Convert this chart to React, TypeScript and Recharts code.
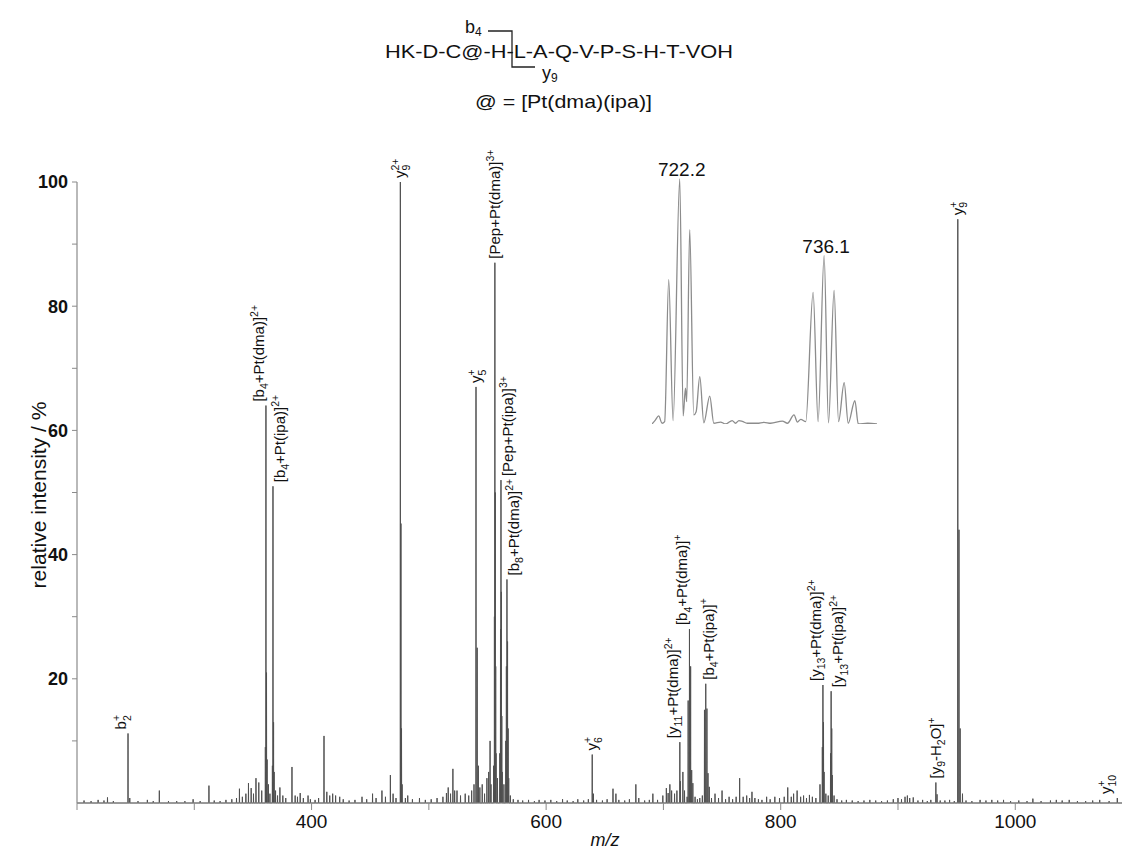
import React from 'react';
import { ComposedChart, Line, Scatter, XAxis, YAxis } from 'recharts';

// ---------- DATA ----------
// main stick spectrum: [m/z, relative intensity %]
const peaks: [number, number][] = [
  [206, 0.4], [212, 0.3], [218, 0.5], [223, 0.4], [226, 0.9], [231, 0.3], [243.5, 11.2], [245, 0.8],
  [252, 0.3], [260, 0.5], [265, 0.3], [270.2, 2.0], [278, 0.3], [285, 0.3], [292, 0.3], [299, 0.6],
  [305, 0.3], [312.5, 2.8], [317, 0.4], [322, 0.3], [327, 0.5], [332, 0.6], [336, 0.8],
  [338.5, 2.3], [341, 1], [344, 1.5], [346.2, 3.2], [348.5, 2.4], [350.5, 1.5], [352.6, 4], [355, 3.3],
  [357.5, 2], [360.6, 9], [361.1, 64], [361.6, 21], [362.1, 7], [363.2, 3], [364.5, 1.5], [366.6, 6],
  [367.1, 51], [367.6, 13], [368.1, 5], [369.3, 2], [371, 1.2], [373, 2.5], [375.5, 1.2], [378, 0.8],
  [383.3, 5.8], [386, 1.2], [388, 1], [390.3, 1.6], [393, 0.8], [397, 1.2], [399, 0.6],
  [403, 0.5], [406, 0.8], [410.6, 10.8], [413, 1.8], [415.5, 1.2], [418, 1.5], [420.5, 1.2], [424, 1.0],
  [427, 0.6], [432, 0.4], [437, 0.5], [443, 1.0], [447, 0.6], [452, 1.5], [455, 0.8], [460, 2.0],
  [463, 1.0], [467.2, 4.5], [469.5, 1.5], [472, 0.8],
  [475.7, 100], [476.2, 45], [476.7, 12], [477.2, 3], [480, 0.8], [482, 1.2], [486, 0.6], [492, 0.8],
  [497, 0.5], [502, 0.6], [507, 0.8], [512, 1.0], [515, 1.6], [516.5, 2.5], [518.5, 1.5], [520.5, 5.5],
  [522, 2], [524, 2.0], [527, 1.2], [531, 1.5], [534, 1.2], [536.5, 2], [538.5, 3],
  [540.2, 67], [541.2, 25], [542.2, 6], [543.5, 2.5], [545.5, 3], [547.5, 1.5], [549.5, 4], [551, 5],
  [552.2, 10], [553, 3], [555.2, 6], [555.9, 30], [556.3, 87], [556.6, 50], [557.0, 22], [557.3, 8],
  [558.5, 4], [560.5, 8], [561.1, 28], [561.5, 52], [561.8, 34], [562.2, 14], [562.6, 5], [564, 3],
  [565.6, 10], [566.1, 22], [566.6, 36], [567.1, 26], [567.6, 12], [568.1, 4], [569.5, 1.2], [572, 0.6],
  [576, 0.5], [580, 0.4], [585, 0.5], [590, 0.3], [594, 0.5], [599, 0.4], [604, 0.5], [609, 0.3],
  [614, 0.6], [618, 0.4], [623, 0.3], [627, 0.6], [632, 0.4], [636, 0.6],
  [639.3, 7.8], [640.3, 1.5], [643, 0.5], [648, 0.4], [652, 0.6], [657, 2.3], [659.5, 1.5], [662, 0.5],
  [667, 0.4], [671, 0.6], [676.5, 3.0], [679, 0.8], [684, 0.4], [688, 0.5], [691, 1.5], [695, 0.5],
  [699.5, 1.2], [702.5, 2.4], [704, 1.6], [705.5, 3.0], [707, 2.0], [709.5, 1.5], [711.5, 2.0],
  [714, 9.8], [714.5, 3.5], [716.6, 5], [718, 2], [720.2, 1], [721.1, 16.5], [722.2, 28], [722.8, 4.2],
  [723.2, 22], [724.1, 5.3], [725.1, 3.2], [727, 1], [729, 0.6], [731, 0.8], [733.2, 1.2],
  [735.0, 15], [736.1, 19.2], [737.1, 15.2], [738.0, 4.8], [739.1, 2.6], [741, 0.8], [744, 1.5],
  [747, 0.8], [750, 2.0], [753, 0.6], [756, 1.0], [759, 0.6], [762, 1.0], [765, 4.0], [768, 1.0],
  [771, 1.2], [773.5, 0.8], [775.5, 1.8], [778, 0.8], [781, 0.6], [784, 0.5], [788, 1.0], [791, 0.6],
  [795, 1.0], [799, 0.8], [803, 1.0], [806, 2.5], [809, 1.0], [811, 1.5], [814, 2.0], [817, 1.0],
  [819.5, 1.2], [822, 0.8], [824.5, 1.3], [827, 1.0], [830, 0.8], [833.5, 3.0],
  [835.5, 9], [836.0, 19], [836.5, 13], [837.0, 5], [838.5, 1.5], [840.5, 1.2],
  [842.5, 8], [843.0, 18], [843.5, 12], [844.0, 4.5], [845.5, 1.2], [848, 0.6], [852, 0.4], [856, 0.5],
  [861, 0.4], [866, 0.3], [871, 0.4], [876, 0.5], [881, 0.4], [886, 0.3], [891, 0.4], [896, 0.6],
  [900, 0.8], [903, 0.6], [906, 1.0], [908, 1.2], [910, 0.8], [913, 0.9], [917, 0.4], [921, 0.5],
  [925, 0.3], [928, 0.5], [932.3, 3.3], [933.3, 1.4], [936, 0.4], [940, 0.4], [944, 0.5], [948, 0.3],
  [951.0, 94], [952.0, 44], [953.0, 12], [955, 1.5], [958, 0.4], [963, 0.3], [970, 0.5], [975, 0.4],
  [980, 0.5], [985, 0.4], [990, 0.5], [996, 0.3], [1003, 0.4], [1010, 0.3], [1015, 0.7], [1022, 0.3],
  [1030, 0.4], [1035, 0.5], [1040, 0.4], [1046, 0.5], [1053, 0.3], [1060, 0.3], [1066, 0.4],
  [1072, 0.5], [1080, 0.3], [1087, 0.8],
];

// annotated fragment ions: m/z, intensity, label markup (_{} subscript, ^{} superscript)
const labelMz = [243.5, 361.1, 367.1, 475.7, 540.2, 556.3, 561.5, 566.6, 639.3, 714, 722.2, 736.1, 836.0, 843.0, 932.3, 951.0, 1087];
const labelInt = [11.2, 64, 51, 100, 67, 87, 52, 36, 7.8, 9.8, 28, 19.2, 19, 18, 3.3, 94, 0.8];
const labelText = [
  'b_{2}^{+}', '[b_{4}+Pt(dma)]^{2+}', '[b_{4}+Pt(ipa)]^{2+}', 'y_{9}^{2+}', 'y_{5}^{+}',
  '[Pep+Pt(dma)]^{3+}', '[Pep+Pt(ipa)]^{3+}', '[b_{8}+Pt(dma)]^{2+}', 'y_{6}^{+}',
  '[y_{11}+Pt(dma)]^{2+}', '[b_{4}+Pt(dma)]^{+}', '[b_{4}+Pt(ipa)]^{+}',
  '[y_{13}+Pt(dma)]^{2+}', '[y_{13}+Pt(ipa)]^{2+}', '[y_{9}-H_{2}O]^{+}', 'y_{9}^{+}', 'y_{10}^{+}',
];

// inset: profile of the 722.2 / 736.1 isotope clusters
const insetMz = [719.56, 719.88, 720.2, 720.53, 720.78, 721.17, 721.59, 722.23, 722.56, 722.78, 722.9, 723.19,
  723.58, 723.81, 724.16, 724.55, 725.12, 725.51, 726.16, 726.64, 727.28, 727.6, 727.93, 728.25, 728.73,
  729.7, 730.34, 730.98, 732.11, 732.6, 733.23, 733.56, 733.88, 734.36, 735.07, 735.55, 736.13, 736.55,
  737.09, 737.52, 738.06, 738.45, 739.09, 739.42, 740.32, 741.22];
const insetInt = [0, 1.6, 3.3, 0.3, 1, 58.9, 1.4, 100, 3.3, 14.6, 9.1, 79.3,
  3.7, 5, 19.3, 0.5, 11.4, 0.3, 0.8, 0, 1.4, 0.3, 1.4, 1.1, 0.3,
  0.3, 0.7, 0.3, 1.2, 0.3, 3.7, 0.8, 1.9, 1, 53.7, 1, 68.7, 0.5,
  54.5, 1, 16.9, 0.3, 9.5, 0, 0.3, 0];
const insetLabelMz = [722.23, 736.13];
const insetLabelInt = [100, 68.7];
const insetLabelText = ['722.2', '736.1'];

const xTicks = [200, 300, 400, 500, 600, 700, 800, 900, 1000];
const xTickLabels = [400, 600, 800, 1000];
const yTicks = [10, 20, 30, 40, 50, 60, 70, 80, 90, 100];
const yTickLabels = [20, 40, 60, 80, 100];

// ---------- STYLE: which side of its peak line each label sits ----------
const SIDE_OFFSET: Record<string, number> = { L: -2, C: 5, R: 12, r: 8, l: -6 };
const LABEL_SIDE: Record<string, string> = {
  'b_{2}^{+}': 'L',
  '[b_{4}+Pt(dma)]^{2+}': 'L',
  '[b_{4}+Pt(ipa)]^{2+}': 'R',
  'y_{9}^{2+}': 'C',
  'y_{5}^{+}': 'C',
  '[Pep+Pt(dma)]^{3+}': 'C',
  '[Pep+Pt(ipa)]^{3+}': 'R',
  '[b_{8}+Pt(dma)]^{2+}': 'R',
  'y_{6}^{+}': 'C',
  '[y_{11}+Pt(dma)]^{2+}': 'L',
  '[b_{4}+Pt(dma)]^{+}': 'L',
  '[b_{4}+Pt(ipa)]^{+}': 'r',
  '[y_{13}+Pt(dma)]^{2+}': 'L',
  '[y_{13}+Pt(ipa)]^{2+}': 'R',
  '[y_{9}-H_{2}O]^{+}': 'C',
  'y_{9}^{+}': 'C',
  'y_{10}^{+}': 'l',
};

// ---------- BUILD TABLES ----------
const HALF = 0.12;
const spectrum = (() => {
  const sorted = [...peaks].sort((a, b) => a[0] - b[0]);
  const pts: { mz: number; y: number }[] = [{ mz: 200, y: 0 }];
  sorted.forEach(([m, h]) => {
    pts.push({ mz: m - HALF, y: 0 }, { mz: m, y: h }, { mz: m + HALF, y: 0 });
  });
  pts.push({ mz: 1091, y: 0 });
  return pts;
})();
const labels = labelMz.map((m, i) => ({ mz: m, y: labelInt[i], text: labelText[i] }));
const insetData = insetMz.map((m, i) => ({ mz: m, y: insetInt[i] }));
const insetLabels = insetLabelMz.map((m, i) => ({ mz: m, y: insetLabelInt[i], text: insetLabelText[i] }));

const FONT = '"Liberation Sans", Arial, Helvetica, sans-serif';

function rich(markup: string, fs: number) {
  const parts = markup.split(/(_\{[^}]*\}|\^\{[^}]*\})/).filter(Boolean);
  let shift = 0;
  let lastSubW = 0;
  let prevSub = false;
  const small = fs * 0.7;
  return parts.map((p, i) => {
    let target = 0;
    let content = p;
    let size = fs;
    let dx = 0;
    let isSub = false;
    if (p.startsWith('_{')) {
      content = p.slice(2, -1);
      target = fs * 0.3;
      size = small;
      isSub = true;
      lastSubW = content.length * 0.556 * small;
    } else if (p.startsWith('^{')) {
      content = p.slice(2, -1);
      target = -fs * 0.42;
      size = small;
      if (prevSub) dx = -lastSubW;
    }
    const dy = target - shift;
    shift = target;
    prevSub = isSub;
    return (
      <tspan key={i} dy={dy} dx={dx || undefined} fontSize={size}>
        {content}
      </tspan>
    );
  });
}

const PeakLabel = (props: any) => {
  const { cx, cy, payload } = props;
  if (cx == null || cy == null) return null;
  const off = SIDE_OFFSET[LABEL_SIDE[payload.text] || 'L'];
  return (
    <text
      transform={`translate(${cx + off},${cy - 4}) rotate(-90)`}
      fontFamily={FONT}
      fontSize={15}
      fill="#111"
      textAnchor="start"
    >
      {rich(payload.text, 15)}
    </text>
  );
};

const InsetLabel = (props: any) => {
  const { cx, cy, payload } = props;
  if (cx == null || cy == null) return null;
  return (
    <text x={cx + 2} y={cy - 3} fontFamily={FONT} fontSize={19} fill="#111" textAnchor="middle">
      {payload.text}
    </text>
  );
};

export default function App() {
  return (
    <div
      style={{
        position: 'absolute',
        left: 0,
        top: 0,
        width: 1122,
        height: 852,
        background: '#ffffff',
        overflow: 'hidden',
        fontFamily: FONT,
      }}
    >
      <div style={{ position: 'absolute', left: 0, top: 0 }}>
        <ComposedChart width={1122} height={852} margin={{ top: 182, right: 0, bottom: 0, left: 0 }}>
          <XAxis
            type="number"
            dataKey="mz"
            domain={[200, 1091]}
            ticks={xTicks}
            tickFormatter={(v: number) => (xTickLabels.includes(v) ? String(v) : '')}
            height={49}
            tickSize={7}
            tickMargin={5}
            axisLine={{ stroke: '#8a8a8a', strokeWidth: 1.2 }}
            tickLine={{ stroke: '#8a8a8a' }}
            tick={{ fontSize: 19, fill: '#111', fontFamily: FONT }}
          />
          <YAxis
            type="number"
            dataKey="y"
            domain={[0, 100]}
            ticks={yTicks}
            tickFormatter={(v: number) => (yTickLabels.includes(v) ? String(v) : '')}
            width={77}
            tickSize={5}
            tickMargin={4}
            axisLine={{ stroke: '#8a8a8a', strokeWidth: 1.2 }}
            tickLine={{ stroke: '#8a8a8a' }}
            tick={{ fontSize: 18, fontWeight: 'bold', fill: '#111', fontFamily: FONT }}
          />
          <Line
            data={spectrum}
            dataKey="y"
            type="linear"
            stroke="#505050"
            strokeWidth={1}
            dot={false}
            activeDot={false}
            isAnimationActive={false}
          />
          <Scatter data={labels} dataKey="y" shape={PeakLabel} isAnimationActive={false} />
        </ComposedChart>
      </div>

      <div style={{ position: 'absolute', left: 652, top: 149 }}>
        <ComposedChart width={225} height={275} margin={{ top: 30, right: 0, bottom: 0, left: 0 }}>
          <XAxis type="number" dataKey="mz" domain={[719.56, 741.22]} hide />
          <YAxis type="number" dataKey="y" domain={[0, 100]} hide />
          <Line
            data={insetData}
            dataKey="y"
            type="monotone"
            stroke="#8c8c8c"
            strokeWidth={1.3}
            dot={false}
            activeDot={false}
            isAnimationActive={false}
          />
          <Scatter data={insetLabels} dataKey="y" shape={InsetLabel} isAnimationActive={false} />
        </ComposedChart>
      </div>

      <svg
        width={1122}
        height={852}
        style={{ position: 'absolute', left: 0, top: 0, pointerEvents: 'none' }}
        fontFamily={FONT}
      >
        {/* peptide sequence header */}
        <text x={465} y={33} fontSize={18} fill="#111">
          b<tspan fontSize={12} dy={3}>4</tspan>
        </text>
        <polyline points="488,31 512,31 512,67 535,67" fill="none" stroke="#222" strokeWidth={1.3} />
        <text x={385} y={58} fontSize={19} fill="#111" textLength={348} lengthAdjust="spacingAndGlyphs">
          HK-D-C@-H-L-A-Q-V-P-S-H-T-VOH
        </text>
        <text x={542} y={79} fontSize={18} fill="#111">
          y<tspan fontSize={12} dy={3}>9</tspan>
        </text>
        <text x={475} y={108} fontSize={19} fill="#111" textLength={177} lengthAdjust="spacingAndGlyphs">
          @ = [Pt(dma)(ipa)]
        </text>

        {/* axis titles */}
        <text transform="translate(46,495) rotate(-90)" fontSize={21} fill="#111" textAnchor="middle">
          relative intensity / %
        </text>
        <text x={605} y={846} fontSize={18} fontStyle="italic" fill="#111" textAnchor="middle">
          m/z
        </text>
      </svg>
    </div>
  );
}
